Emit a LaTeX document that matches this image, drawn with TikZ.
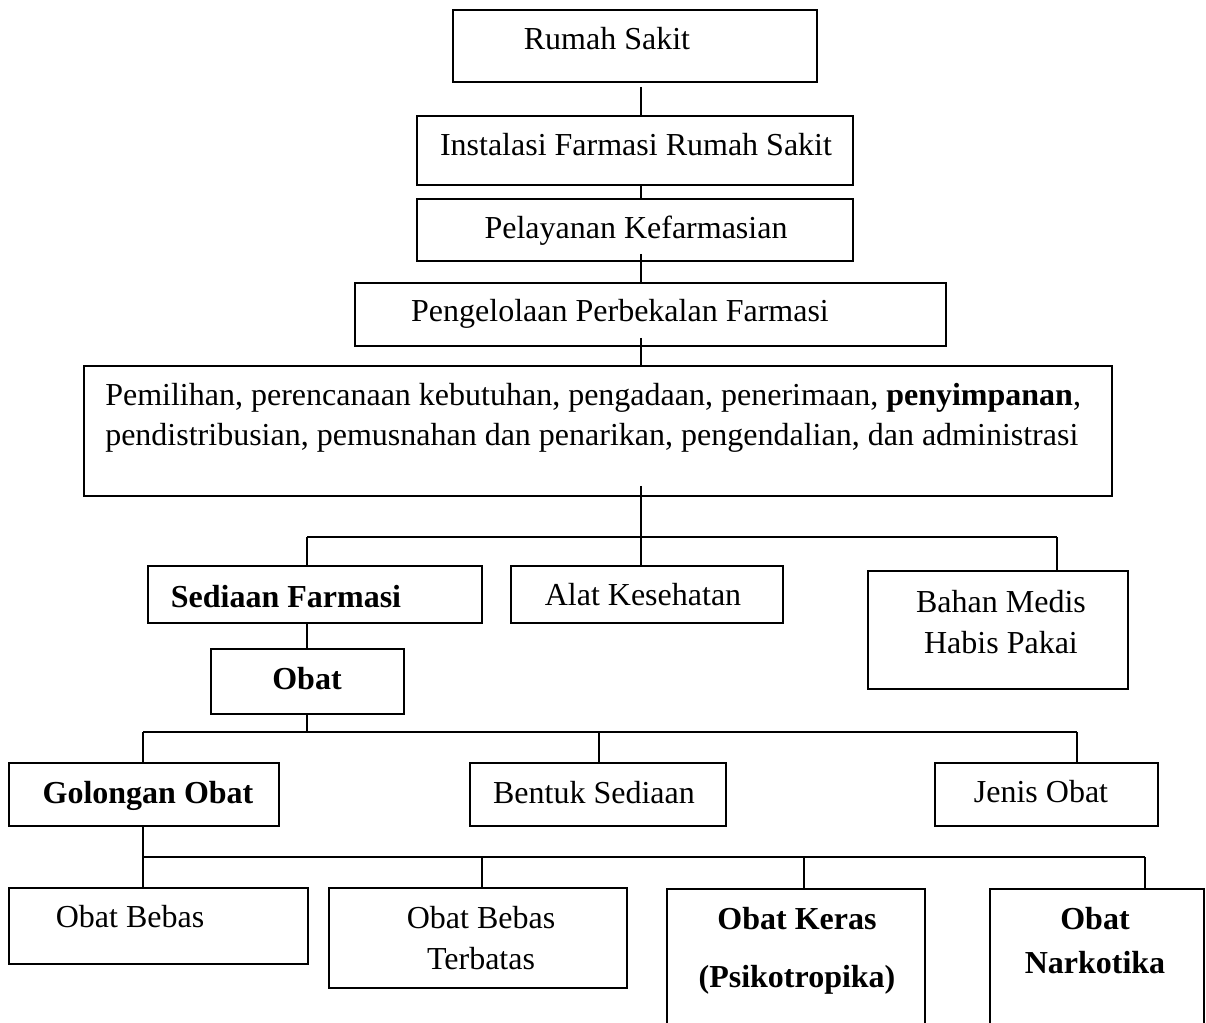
\documentclass[tikz,border=0pt]{standalone}
\usepackage{fontspec}
\setmainfont{Liberation Serif}
\usetikzlibrary{fit}
\begin{document}
\begin{tikzpicture}[x=0.75pt,y=-0.75pt,
  box/.style={draw, line width=1.2pt, inner sep=0pt},
  lbl/.style={inner sep=0pt, font=\fontsize{24}{30}\selectfont},
  conn/.style={line width=1pt}]
\useasboundingbox (0,0) rectangle (1206,1023);
\fill[white] (0,0) rectangle (1206,1023);
\clip (0,0) rectangle (1206,1023);

% boxes
\node[box, fit={(453,10) (817,82)}] (rs) {};
\node[box, fit={(417,116) (853,185)}] (ifrs) {};
\node[box, fit={(417,199) (853,261)}] (pk) {};
\node[box, fit={(355,283) (946,346)}] (ppf) {};
\node[box, fit={(84,366) (1112,496)}] (big) {};
\node[box, fit={(148,566) (482,623)}] (sf) {};
\node[box, fit={(511,566) (783,623)}] (ak) {};
\node[box, fit={(868,571) (1128,689)}] (bm) {};
\node[box, fit={(211,649) (404,714)}] (ob) {};
\node[box, fit={(9,763) (279,826)}] (go) {};
\node[box, fit={(470,763) (726,826)}] (bs) {};
\node[box, fit={(935,763) (1158,826)}] (jo) {};
\node[box, fit={(9,888) (308,964)}] (obb) {};
\node[box, fit={(329,888) (627,988)}] (obt) {};
\node[box, fit={(667,889) (925,1045)}] (ok) {};
\node[box, fit={(990,889) (1204,1045)}] (on) {};

% labels (multi-line nodes: base anchor = baseline of last line)
\node[lbl, anchor=base] (rs-t) at (607,50) {Rumah Sakit};
\node[lbl, anchor=base] (ifrs-t) at (636,156) {Instalasi Farmasi Rumah Sakit};
\node[lbl, anchor=base] (pk-t) at (636,239) {Pelayanan Kefarmasian};
\node[lbl, anchor=base] (ppf-t) at (620,322) {Pengelolaan Perbekalan Farmasi};
\node[lbl, anchor=base west, align=left, font=\fontsize{24}{29.25}\selectfont] (big-t) at (105,445)
  {Pemilihan, perencanaan kebutuhan, pengadaan, penerimaan, \textbf{penyimpanan},\\
   pendistribusian, pemusnahan dan penarikan, pengendalian, dan administrasi};
\node[lbl, anchor=base, font=\fontsize{24}{30}\bfseries] (sf-t) at (286,607) {Sediaan Farmasi};
\node[lbl, anchor=base] (ak-t) at (643,605) {Alat Kesehatan};
\node[lbl, anchor=base, align=center, font=\fontsize{24}{30.75}\selectfont] (bm-t) at (1001,653) {Bahan Medis\\Habis Pakai};
\node[lbl, anchor=base, font=\fontsize{24}{30}\bfseries] (ob-t) at (307,689) {Obat};
\node[lbl, anchor=base, font=\fontsize{24}{30}\bfseries] (go-t) at (148,803) {Golongan Obat};
\node[lbl, anchor=base] (bs-t) at (594,803) {Bentuk Sediaan};
\node[lbl, anchor=base] (jo-t) at (1041,802) {Jenis Obat};
\node[lbl, anchor=base] (obb-t) at (130,927) {Obat Bebas};
\node[lbl, anchor=base, align=center, font=\fontsize{24}{30.75}\selectfont] (obt-t) at (481,969) {Obat Bebas\\Terbatas};
\node[lbl, anchor=base, align=center, font=\fontsize{24}{43.5}\bfseries] (ok-t) at (797,987) {Obat Keras\\(Psikotropika)};
\node[lbl, anchor=base, align=center, font=\fontsize{24}{33}\bfseries] (on-t) at (1095,973) {Obat\\Narkotika};

% junction coordinates
\coordinate (spine) at (641,0);
\coordinate (b1l) at (307,537);
\coordinate (b1m) at (641,537);
\coordinate (b1r) at (1057,537);
\coordinate (b2l) at (143,732);
\coordinate (b2m) at (599,732);
\coordinate (b2r) at (1077,732);
\coordinate (b2c) at (307,732);
\coordinate (b3l) at (143,857);
\coordinate (b3a) at (482,857);
\coordinate (b3b) at (804,857);
\coordinate (b3r) at (1145,857);

% connectors
\draw[conn] ([yshift=-3pt]rs.south -| spine) -- (ifrs.north -| spine);
\draw[conn] (ifrs.south -| spine) -- (pk.north -| spine);
\draw[conn] ([yshift=6pt]pk.south -| spine) -- (ppf.north -| spine);
\draw[conn] ([yshift=6.75pt]ppf.south -| spine) -- (big.north -| spine);
\draw[conn] ([yshift=8.25pt]big.south -| spine) -- (b1m);
\draw[conn] (b1l) -- (b1r);
\draw[conn] (b1l) -- (b1l |- sf.north);
\draw[conn] (b1m) -- (b1m |- ak.north);
\draw[conn] (b1r) -- (b1r |- bm.north);
\draw[conn] (sf.south -| b1l) -- (ob.north -| b1l);
\draw[conn] (ob.south -| b2c) -- (b2c);
\draw[conn] (b2l) -- (b2r);
\draw[conn] (b2l) -- (b2l |- go.north);
\draw[conn] (b2m) -- (b2m |- bs.north);
\draw[conn] (b2r) -- (b2r |- jo.north);
\draw[conn] (go.south -| b2l) -- (b3l);
\draw[conn] (b3l) -- (b3r);
\draw[conn] (b3l) -- (b3l |- obb.north);
\draw[conn] (b3a) -- (b3a |- obt.north);
\draw[conn] (b3b) -- (b3b |- ok.north);
\draw[conn] (b3r) -- (b3r |- on.north);
\end{tikzpicture}
\end{document}
